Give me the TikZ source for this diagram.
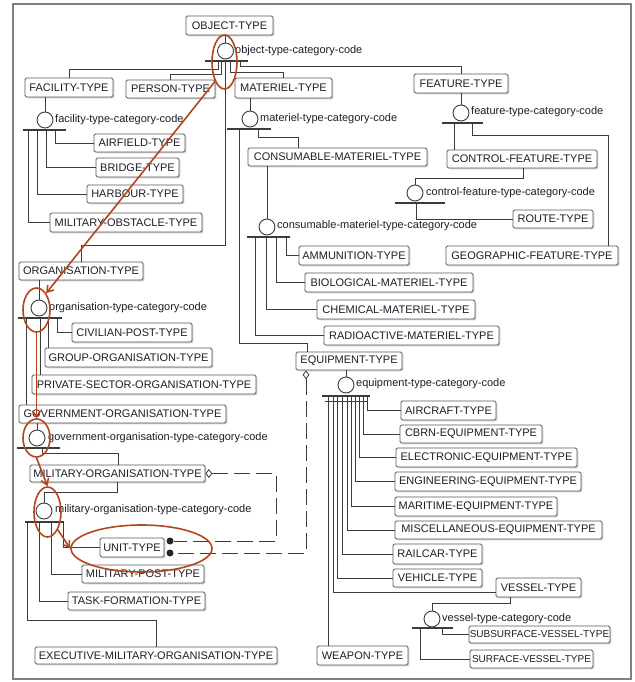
\documentclass[tikz,border=0pt]{standalone}
\usepackage{fontspec}
\setmainfont{Liberation Sans}
\usetikzlibrary{shadows,arrows.meta,shapes.geometric}
\definecolor{ln}{HTML}{3C3C3C}
\definecolor{bd}{HTML}{5A5A5A}
\definecolor{tx}{HTML}{1E1E2A}
\definecolor{rd}{HTML}{B4461E}
\definecolor{fr}{HTML}{808080}
\tikzset{
 bx/.style={draw=bd, line width=0.9pt, fill=white, rounded corners=1.5pt, inner sep=0pt,
   font=\fontsize{11}{13}\selectfont, text=tx,
   drop shadow={shadow xshift=1.4pt,shadow yshift=-1.4pt,opacity=0.35}},
 smallbx/.style={bx, font=\fontsize{10}{12}\selectfont},
 cat/.style={circle, draw=ln, line width=0.9pt, fill=white, minimum size=16pt, inner sep=0pt},
 lbl/.style={anchor=west, inner sep=0pt, font=\fontsize{11}{13}\selectfont, text=tx},
 conn/.style={draw=ln, line width=0.9pt},
 barl/.style={draw=ln, line width=1.1pt},
 rel/.style={draw=ln, line width=0.9pt, dash pattern=on 16pt off 6pt},
 dia/.style={diamond, draw=ln, fill=white, line width=0.8pt, minimum width=6pt, minimum height=8pt, inner sep=0pt},
 dot/.style={circle, fill=black!85, minimum size=7pt, inner sep=0pt},
 annot/.style={ellipse, draw=rd, line width=1.6pt, inner sep=0pt},
 annotarrow/.style={draw=rd, line width=1.6pt, -{Straight Barb[length=6pt,width=8pt]}},
}
\newcommand\mybox[7][bx]{\node[#1, minimum width={(#5)-(#3)}, minimum height={(#6)-(#4)}] (#2) at ({((#3)+(#5))/2},{((#4)+(#6))/2}) {#7};}
\begin{document}
\begin{tikzpicture}[x=1pt,y=-1pt]
\useasboundingbox (0,0) rectangle (634,682);
\fill[white] (0,0) rectangle (634,682);
\draw[fr, line width=2pt] (13,4) rectangle (631,679);

% boxes
\mybox{obj}{186}{16}{273}{35}{OBJECT-TYPE}
\mybox{fac}{25}{78}{113}{97}{FACILITY-TYPE}
\mybox{per}{126}{80}{215}{98}{PERSON-TYPE}
\mybox{mat}{235}{78}{332}{98}{MATERIEL-TYPE}
\mybox{fea}{414}{74}{508}{93}{FEATURE-TYPE}
\mybox{air}{94}{134}{185}{152}{AIRFIELD-TYPE}
\mybox{bri}{96}{158}{179}{177}{BRIDGE-TYPE}
\mybox{har}{87}{185}{183}{203}{HARBOUR-TYPE}
\mybox{mob}{50}{213}{202}{232}{MILITARY-OBSTACLE-TYPE}
\mybox{con}{248}{148}{427}{166}{CONSUMABLE-MATERIEL-TYPE}
\mybox{cft}{447}{150}{597}{168}{CONTROL-FEATURE-TYPE}
\mybox{rou}{513}{210}{593}{228}{ROUTE-TYPE}
\mybox{amm}{299}{246}{409}{265}{AMMUNITION-TYPE}
\mybox{geo}{446}{246}{618}{265}{GEOGRAPHIC-FEATURE-TYPE}
\mybox{bio}{305}{273}{473}{292}{BIOLOGICAL-MATERIEL-TYPE}
\mybox{che}{317}{300}{475}{319}{CHEMICAL-MATERIEL-TYPE}
\mybox{rad}{324}{326}{499}{345}{RADIOACTIVE-MATERIEL-TYPE}
\mybox{equ}{296}{352}{402}{370}{EQUIPMENT-TYPE}
\mybox{org}{19}{262}{143}{280}{ORGANISATION-TYPE}
\mybox{civ}{72}{323}{192}{342}{CIVILIAN-POST-TYPE}
\mybox{grp}{45}{348}{212}{367}{GROUP-ORGANISATION-TYPE}
\mybox{pri}{32}{375}{256}{394}{PRIVATE-SECTOR-ORGANISATION-TYPE}
\mybox{gov}{19}{405}{226}{423}{GOVERNMENT-ORGANISATION-TYPE}
\mybox{mil}{30}{465}{205}{482}{MILITARY-ORGANISATION-TYPE}
\mybox{unit}{100}{538}{164}{557}{UNIT-TYPE}
\mybox{mpo}{82}{565}{204}{583}{MILITARY-POST-TYPE}
\mybox{tfo}{68}{592}{205}{610}{TASK-FORMATION-TYPE}
\mybox{exe}{35}{647}{277}{664}{EXECUTIVE-MILITARY-ORGANISATION-TYPE}
\mybox{acr}{401}{401}{496}{420}{AIRCRAFT-TYPE}
\mybox{cbr}{400}{425}{542}{443}{CBRN-EQUIPMENT-TYPE}
\mybox{ele}{396}{448}{577}{467}{ELECTRONIC-EQUIPMENT-TYPE}
\mybox{eng}{395}{472}{581}{491}{ENGINEERING-EQUIPMENT-TYPE}
\mybox{mar}{395}{497}{557}{516}{MARITIME-EQUIPMENT-TYPE}
\mybox{mis}{395}{521}{602}{539}{MISCELLANEOUS-EQUIPMENT-TYPE}
\mybox{rai}{393}{544}{482}{564}{RAILCAR-TYPE}
\mybox{veh}{393}{569}{482}{587}{VEHICLE-TYPE}
\mybox{ves}{496}{578}{581}{597}{VESSEL-TYPE}
\mybox{wea}{317}{646}{408}{665}{WEAPON-TYPE}
\mybox[smallbx]{sub}{469}{626}{610}{643}{SUBSURFACE-VESSEL-TYPE}
\mybox[smallbx]{sur}{470}{650}{593}{668}{SURFACE-VESSEL-TYPE}

% category circles and labels
\node[cat] (cobj) at (225.5,51) {};
\node[lbl] at (235,51) {object-type-category-code};
\node[cat] (cfac) at (45,120) {};
\node[lbl] at (55,120) {facility-type-category-code};
\node[cat] (cmat) at (250,119) {};
\node[lbl] at (260,119) {materiel-type-category-code};
\node[cat] (cfea) at (461,113) {};
\node[lbl] at (471,112) {feature-type-category-code};
\node[cat] (ccft) at (415,193) {};
\node[lbl] at (426,193) {control-feature-type-category-code};
\node[cat] (ccon) at (267,227) {};
\node[lbl] at (277,226) {consumable-materiel-type-category-code};
\node[cat] (corg) at (39,308) {};
\node[lbl] at (49,308) {organisation-type-category-code};
\node[cat] (cgov) at (37,438) {};
\node[lbl] at (48,438) {government-organisation-type-category-code};
\node[cat] (cmil) at (44,511) {};
\node[lbl] at (55,510) {military-organisation-type-category-code};
\node[cat] (cequ) at (346,385) {};
\node[lbl] at (356,384) {equipment-type-category-code};
\node[cat] (cves) at (432,619) {};
\node[lbl] at (442,619) {vessel-type-category-code};

% bars
\draw[barl] (205,61) -- (248,61);
\draw[barl] (23,130) -- (66,130);
\draw[barl] (227,129) -- (271,129);
\draw[barl] (442,123) -- (483,123);
\draw[barl] (395,203) -- (445,203);
\draw[barl] (247,237) -- (290,237);
\draw[barl] (18,318) -- (62,318);
\draw[barl] (17,448) -- (60,448);
\draw[barl] (25,522) -- (64,522);
\draw[barl] (322,396) -- (370,396);
\draw[conn] (325,401) -- (368,401);
\draw[barl] (412,628) -- (453,628);

% parent to circle
\draw[conn] (obj.south -| cobj.north) -- (cobj.north);
\draw[conn] (fac.south -| cfac.north) -- (cfac.north);
\draw[conn] (mat.south -| cmat.north) -- (cmat.north);
\draw[conn] (fea.south -| cfea.north) -- (cfea.north);
\draw[conn] (523,0 |- cft.south) |- (415,178) -- (ccft.north);
\draw[conn] (con.south -| ccon.north) -- (ccon.north);
\draw[conn] (org.south -| corg.north) -- (corg.north);
\draw[conn] (gov.south -| cgov.north) -- (cgov.north);
\draw[conn] (117,0 |- mil.south) |- (44,492) -- (cmil.north);
\draw[conn] (equ.south -| cequ.north) -- (cequ.north);
\draw[conn] (510,0 |- ves.south) |- (432,603) -- (cves.north);

% object-type children
\draw[conn] (218,61) -- (218,69) -| (fac.north);
\draw[conn] (221,61) -- (221,74) -| (per.north);
\draw[conn] (225,61) -- (225,245) -| (org.north);
\draw[conn] (230,61) -- (230,72) -| (mat.north);
\draw[conn] (240,61) -- (240,66) -| (fea.north);

% facility children
\draw[conn] (55,130) |- (air.west);
\draw[conn] (46,130) |- (bri.west);
\draw[conn] (37,130) |- (har.west);
\draw[conn] (28,130) |- (mob.west);

% materiel children
\draw[conn] (258,129) |- (298,137) -- (298,0 |- con.north);
\draw[conn] (239,129) |- (307,343) -- (307,0 |- equ.north);

% consumable children
\draw[conn] (286,237) |- (amm.west);
\draw[conn] (276,237) |- (bio.west);
\draw[conn] (266,237) |- (che.west);
\draw[conn] (255,237) |- (rad.west);

% feature children
\draw[conn] (454,123) -- (454,0 |- cft.north);
\draw[conn] (472,123) |- (608,135) -- (608,0 |- geo.north);
\draw[conn] (416,203) |- (rou.west);

% organisation children
\draw[conn] (57,318) |- (civ.west);
\draw[conn] (48,318) -- (48,0 |- grp.north);
\draw[conn] (40,318) -- (40,0 |- pri.north);
\draw[conn] (26,318) -- (26,0 |- gov.north);
\draw[conn] (42,448) |- (118,453) -- (118,0 |- mil.north);

% military organisation children
\draw[conn] (63,522) |- (unit.west);
\draw[conn] (51,522) |- (mpo.west);
\draw[conn] (39,522) |- (tfo.west);
\draw[conn] (27,522) |- (156,620) -- (156,0 |- exe.north);

% equipment children
\draw[conn] (367,396) |- (acr.west);
\draw[conn] (363,396) |- (cbr.west);
\draw[conn] (359,396) |- (ele.west);
\draw[conn] (355,396) |- (eng.west);
\draw[conn] (351,396) |- (mar.west);
\draw[conn] (347,396) |- (mis.west);
\draw[conn] (342,396) |- (rai.west);
\draw[conn] (337,396) |- (veh.west);
\draw[conn] (333,396) |- ([yshift=-5pt]ves.west);
\draw[conn] (328,396) -- (328,0 |- wea.north);

% vessel children
\draw[conn] (442,628) |- (sub.west);
\draw[conn] (420,628) |- (sur.west);

% relationships
\node[dia, anchor=west] (d1) at (mil.east) {};
\node[dia, anchor=north] (d2) at (306,0 |- equ.south) {};
\node[dot] (dot1) at (170,541) {};
\node[dot] (dot2) at (170,553) {};
\draw[rel] (d1.east) -- (276,0 |- d1.east) -- (276,541) -- (dot1.east);
\draw[rel] (d2.south) -- (306,553) -- (dot2.east);

% red annotations
\node[annot, minimum width=25pt, minimum height=54pt] (e1) at (224.5,62) {};
\node[annot, minimum width=27pt, minimum height=44pt] (e2) at (36.5,310) {};
\node[annot, minimum width=27pt, minimum height=38pt] (e3) at (36.5,438) {};
\node[annot, minimum width=27pt, minimum height=50pt] (e4) at (47.5,512) {};
\node[annot, minimum width=141pt, minimum height=47pt] (e5) at (141.5,548.5) {};
\draw[annotarrow] (e1.244) -- (e2.60);
\draw[annotarrow] (e2.south) -- (e3.north);
\draw[annotarrow] (e3.south) -- (e4.north);
\draw[annotarrow] (e4.300) -- (e5.west);
\end{tikzpicture}
\end{document}
